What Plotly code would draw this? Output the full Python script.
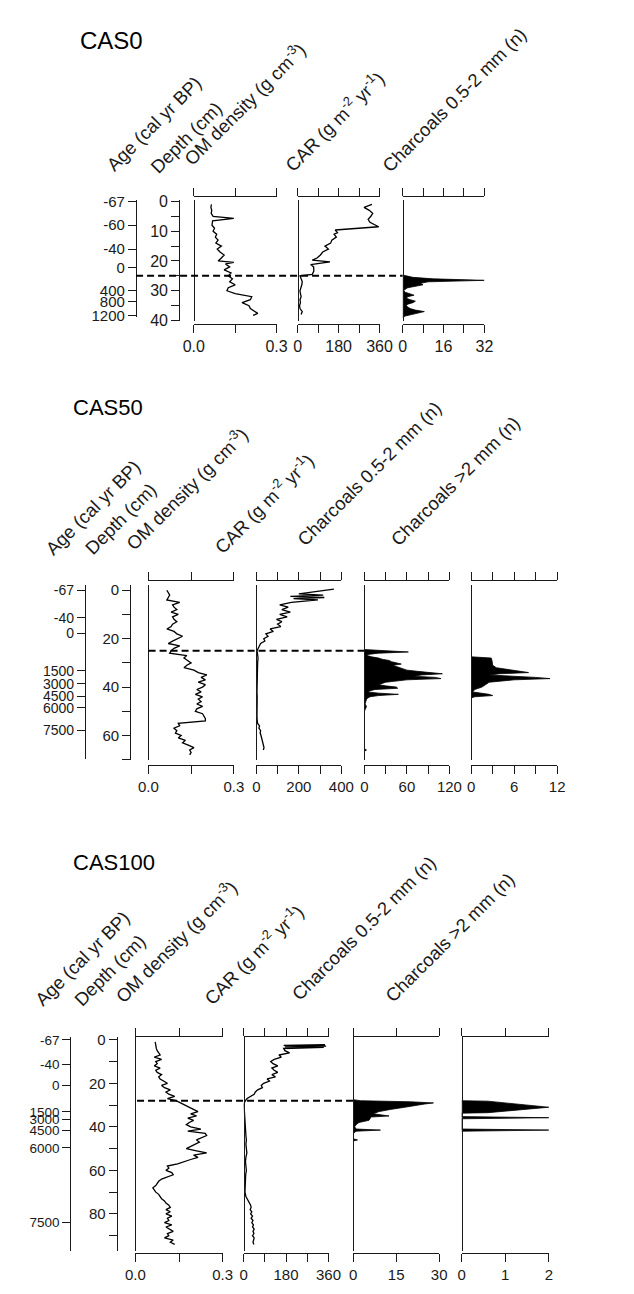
import plotly.graph_objects as go

W, H = 634, 1294
FONT = "Liberation Sans, Arial, sans-serif"
INK = "#1a1a1a"

# ======================= DATA =======================
# ---- CAS0 ----
cas0_age_depth = [0, 8, 16, 22.3, 30, 33.7, 38.3]
cas0_age_labels = ["-67", "-60", "-40", "0", "400", "800", "1200"]
cas0_boundary = 25

cas0_om_depth = [1, 2, 3, 4, 5, 5.7, 6.5, 8, 9, 10, 11, 12, 13, 14, 15, 16, 17, 18, 19, 20, 20.5,
                 21, 22, 23, 24, 25, 26, 27, 28, 29, 30, 31, 32, 33, 34, 35, 36, 37, 37.6, 38.3]
cas0_om = [0.064, 0.062, 0.065, 0.063, 0.07, 0.145, 0.068, 0.066, 0.075, 0.07, 0.083, 0.078, 0.088,
           0.08, 0.1, 0.085, 0.095, 0.11, 0.1, 0.088, 0.145, 0.115, 0.13, 0.11, 0.135, 0.125, 0.14,
           0.13, 0.15, 0.125, 0.12, 0.15, 0.21, 0.205, 0.175, 0.2, 0.205, 0.22, 0.232, 0.215]

cas0_car_depth = [1, 2, 3, 4, 5, 6, 7, 8.5, 9.6, 10.5, 11, 12, 13, 14, 15, 16, 17, 18, 19, 19.7, 20.3,
                  21.2, 22, 23.4, 24.5, 25, 26, 27, 28, 29, 30, 31, 32, 33, 34, 35, 36, 37, 38]
cas0_car = [327, 292, 315, 330, 322, 310, 318, 356, 165, 175, 160, 170, 150, 145, 120, 135, 110, 100,
            85, 64, 142, 57, 70, 71, 64, 10, 15, 20, 18, 15, 10, 12, 15, 10, 12, 8, 10, 20, 15]

cas0_ch_depth = [24.7, 25, 25.5, 26, 26.5, 27, 27.5, 28, 28.5, 29, 29.5, 30, 30.5, 31, 31.5, 32, 32.5,
                 33, 33.5, 34, 34.5, 35, 35.5, 36, 36.5, 37, 37.5, 38, 38.5, 39]
cas0_ch = [0, 2, 4, 12, 32, 10, 7, 8, 5, 2, 1, 0.5, 1, 3, 4.5, 2, 1.5, 3, 5, 4, 2, 1.5, 2, 3, 5,
           8.5, 6, 3, 1, 0]

# ---- CAS50 ----
cas50_age_depth = [0, 11.3, 17.7, 33.3, 38.7, 43.8, 48.6, 57.8]
cas50_age_labels = ["-67", "-40", "0", "1500", "3000", "4500", "6000", "7500"]
cas50_boundary = 25

cas50_om_depth = list(range(0, 69))
cas50_om = [0.065, 0.07, 0.075, 0.07, 0.065, 0.11, 0.085, 0.09, 0.1, 0.08, 0.105, 0.085, 0.09, 0.1,
            0.085, 0.08, 0.065, 0.09, 0.1, 0.12, 0.1, 0.085, 0.07, 0.11, 0.09, 0.08, 0.075, 0.135,
            0.125, 0.14, 0.15, 0.135, 0.125, 0.16, 0.175, 0.205, 0.185, 0.2, 0.175, 0.2, 0.19, 0.17,
            0.185, 0.165, 0.19, 0.175, 0.185, 0.17, 0.19, 0.17, 0.165, 0.19, 0.195, 0.2, 0.2, 0.105,
            0.11, 0.09, 0.1, 0.095, 0.115, 0.105, 0.13, 0.12, 0.14, 0.16, 0.145, 0.15, 0.145]

cas50_car_depth = [-0.5, 1.5, 2, 2.5, 3, 3.5, 4, 4.5, 5, 6, 7, 8, 9, 10, 11, 12, 13, 14, 15, 16, 17, 18,
                   19, 20, 21, 22, 23, 24, 25, 26, 28, 30, 32, 34, 36, 38, 40, 42, 44, 46, 48, 50, 52,
                   54, 55, 56, 57, 58, 59, 60, 61, 62, 63, 64, 65, 66]
cas50_car = [365, 200, 315, 160, 320, 175, 290, 220, 165, 110, 150, 120, 160, 110, 145, 95, 120, 100,
             115, 65, 80, 45, 55, 35, 40, 20, 15, 8, 3, 5, 8, 6, 5, 4, 6, 5, 4, 3, 4, 3, 5, 4, 3, 4, 6,
             15, 12, 20, 18, 22, 25, 28, 30, 32, 36, 33]

cas50_ch1_depth = [24.5, 25, 25.5, 26, 26.5, 27, 27.5, 28, 28.5, 29, 29.5, 30, 30.5, 31, 31.5, 32, 32.5,
                   33, 33.5, 34, 34.5, 35, 35.5, 36, 36.5, 37, 37.5, 38, 38.5, 39, 39.5, 40, 40.5, 41,
                   41.5, 42, 42.5, 43, 43.5, 44, 44.5, 45, 46, 47, 48, 49, 50, 65.5, 66, 66.5]
cas50_ch1 = [0, 30, 62, 20, 5, 4, 10, 20, 25, 35, 38, 45, 52, 40, 45, 50, 55, 60, 75, 95, 110, 80, 70,
             100, 108, 60, 40, 30, 25, 20, 30, 45, 47, 15, 8, 5, 20, 48, 20, 8, 5, 3, 2, 1, 3, 2, 0,
             0, 3, 0]

cas50_ch2_depth = [27.5, 28, 29, 30, 31, 32, 33, 34, 34.5, 35, 36, 36.5, 37, 37.5, 38, 39, 40, 41, 42,
                   43, 43.5, 44, 44.5]
cas50_ch2 = [0, 2.8, 2.9, 3, 3, 3.5, 5.5, 8, 4, 2.5, 9, 11, 6, 3.5, 2.5, 2, 1.5, 0.5, 0.2, 2.5, 3,
             0.5, 0]

# ---- CAS100 ----
cas100_age_depth = [0, 11.3, 21.0, 33.1, 36.6, 41.7, 49.7, 84.0]
cas100_age_labels = ["-67", "-40", "0", "1500", "3000", "4500", "6000", "7500"]
cas100_boundary = 28

cas100_om_depth = list(range(1, 95))
cas100_om = [0.068, 0.069, 0.07, 0.072, 0.075, 0.08, 0.085, 0.065, 0.09, 0.07, 0.075, 0.065, 0.085,
             0.07, 0.075, 0.09, 0.08, 0.085, 0.1, 0.11, 0.09, 0.1, 0.12, 0.105, 0.115, 0.135, 0.11,
             0.14, 0.155, 0.17, 0.185, 0.2, 0.215, 0.19, 0.21, 0.18, 0.2, 0.185, 0.175, 0.19, 0.225,
             0.18, 0.24, 0.245, 0.225, 0.21, 0.22, 0.205, 0.185, 0.175, 0.21, 0.245, 0.2, 0.215, 0.19,
             0.165, 0.145, 0.11, 0.115, 0.105, 0.125, 0.13, 0.11, 0.09, 0.08, 0.075, 0.07, 0.06, 0.065,
             0.07, 0.08, 0.085, 0.09, 0.1, 0.105, 0.115, 0.12, 0.105, 0.12, 0.105, 0.125, 0.11, 0.115,
             0.1, 0.125, 0.105, 0.12, 0.13, 0.11, 0.115, 0.1, 0.13, 0.12, 0.135]

cas100_car_depth = [2.3, 2.6, 2.9, 3.2, 3.5, 4, 5, 6, 7, 8, 9, 10, 11, 12, 13, 14, 15, 16, 17, 18, 19,
                    20, 21, 22, 23, 24, 25, 26, 27, 28, 29, 30, 32, 34, 36, 38, 40, 42, 44, 46, 48, 50,
                    52, 54, 56, 58, 60, 62, 64, 66, 68, 70, 72, 73, 74, 75, 76, 77, 78, 79, 80, 81, 82,
                    83, 84, 85, 86, 87, 88, 89, 90, 91, 92, 93, 94]
cas100_car = [345, 170, 350, 175, 340, 170, 175, 195, 150, 160, 130, 115, 125, 145, 120, 130, 145, 120,
              135, 100, 110, 85, 75, 80, 60, 50, 45, 30, 15, 8, 3, 2, 3, 2, 3, 4, 5, 8, 10, 12, 10, 12,
              14, 10, 8, 10, 12, 9, 8, 10, 8, 6, 10, 15, 22, 25, 30, 32, 28, 35, 30, 38, 32, 40, 35, 42,
              38, 45, 40, 44, 38, 45, 42, 40, 44]

cas100_ch1_depth = [27.5, 28, 28.5, 29, 29.5, 30, 31, 32, 33, 34, 35, 35.5, 36, 37, 38, 39, 40, 41, 41.5,
                    42, 43, 45.5, 46, 46.5]
cas100_ch1 = [0, 2.5, 20, 28, 25, 22, 18, 13, 9, 7, 12.5, 6, 6, 5.5, 2, 1, 0.5, 1, 9.5, 1, 0, 0, 1.5, 0]

cas100_ch2_depth = [28, 28.2, 31, 33.5, 33.7, 35.3, 35.8, 36.3, 41.0, 41.5, 42.0]
cas100_ch2 = [0, 0.6, 2, 0.6, 0, 0, 2, 0, 0, 2, 0]

# ======================= GEOMETRY / STYLE =======================
CORES = [
    dict(name="CAS0", title=(70, 33, 24), tick_size=16, age_size=15,
         y0=196.0, k=3.017, top=195.0, bottom=316.7, xtop=190.7, xbot=320.0,
         depth_x=175, depth_rng=(195.0, 316.7), depth_ticks=[0, 5, 10, 15, 20, 25, 30, 35, 40],
         depth_step=10,
         age_x=130, age_rng=(195.0, 313.0),
         age_depth=cas0_age_depth, age_labels=cas0_age_labels,
         boundary=cas0_boundary, dash=(130, 407),
         labels=[("Age (cal yr BP)", 149, 117.5), ("Depth (cm)", 182.5, 131.7),
                 ("OM density (g cm<sup>-3</sup>)", 243, 96.7),
                 ("CAR (g m<sup>-2</sup> yr<sup>-1</sup>)", 335.8, 115),
                 ("Charcoals 0.5-2 mm (n)", 460, 93.3)],
         panels=[
             dict(lr=(190, 276), xmax=0.3, ticks=[0, 0.15, 0.3], text=["0.0", "", "0.3"],
                  x=cas0_om, y=cas0_om_depth, fill=False),
             dict(lr=(298, 383), xmax=360, ticks=[0, 90, 180, 270, 360], text=["0", "", "180", "", "360"],
                  x=cas0_car, y=cas0_car_depth, fill=False),
             dict(lr=(407, 492), xmax=32, ticks=[0, 8, 16, 24, 32], text=["0", "", "16", "", "32"],
                  x=cas0_ch, y=cas0_ch_depth, fill=True),
         ]),
    dict(name="CAS50", title=(62, 405, 22), tick_size=15, age_size=14,
         y0=590.0, k=2.453, top=585.0, bottom=761.7, xtop=580.0, xbot=766.7,
         depth_x=124, depth_rng=(585.0, 761.7), depth_ticks=[0, 10, 20, 30, 40, 50, 60, 70],
         depth_step=20,
         age_x=77, age_rng=(585.0, 761.0),
         age_depth=cas50_age_depth, age_labels=cas50_age_labels,
         boundary=cas50_boundary, dash=(143, 367),
         labels=[("Age (cal yr BP)", 85.5, 506.5), ("Depth (cm)", 114.5, 517.5),
                 ("OM density (g cm<sup>-3</sup>)", 182.5, 486.5),
                 ("CAR (g m<sup>-2</sup> yr<sup>-1</sup>)", 262.5, 501.5),
                 ("Charcoals 0.5-2 mm (n)", 372.5, 471.5),
                 ("Charcoals >2 mm (n)", 461.5, 480)],
         panels=[
             dict(lr=(142.7, 231.7), xmax=0.3, ticks=[0, 0.15, 0.3], text=["0.0", "", "0.3"],
                  x=cas50_om, y=cas50_om_depth, fill=False),
             dict(lr=(255, 343.3), xmax=400, ticks=[0, 100, 200, 300, 400], text=["0", "", "200", "", "400"],
                  x=cas50_car, y=cas50_car_depth, fill=False),
             dict(lr=(367.3, 455.7), xmax=120, ticks=[0, 30, 60, 90, 120], text=["0", "", "60", "", "120"],
                  x=cas50_ch1, y=cas50_ch1_depth, fill=True),
             dict(lr=(478.3, 567.7), xmax=12, ticks=[0, 3, 6, 9, 12], text=["0", "", "6", "", "12"],
                  x=cas50_ch2, y=cas50_ch2_depth, fill=True),
         ]),
    dict(name="CAS100", title=(62, 866, 22), tick_size=15, age_size=13.5,
         y0=1045.5, k=2.206, top=1043.0, bottom=1260.0, xtop=1041.7, xbot=1261.7,
         depth_x=110, depth_rng=(1043.0, 1260.0), depth_ticks=[0, 10, 20, 30, 40, 50, 60, 70, 80, 90],
         depth_step=20,
         age_x=61.7, age_rng=(1043.0, 1260.0),
         age_depth=cas100_age_depth, age_labels=cas100_age_labels,
         boundary=cas100_boundary, dash=(131, 355.7),
         labels=[("Age (cal yr BP)", 74, 963), ("Depth (cm)", 102.5, 975),
                 ("OM density (g cm<sup>-3</sup>)", 171, 945),
                 ("CAR (g m<sup>-2</sup> yr<sup>-1</sup>)", 252, 959),
                 ("Charcoals 0.5-2 mm (n)", 366.5, 933),
                 ("Charcoals >2 mm (n)", 456, 941.5)],
         panels=[
             dict(lr=(129.3, 220), xmax=0.3, ticks=[0, 0.15, 0.3], text=["0.0", "", "0.3"],
                  x=cas100_om, y=cas100_om_depth, fill=False),
             dict(lr=(241.7, 330), xmax=360, ticks=[0, 90, 180, 270, 360], text=["0", "", "180", "", "360"],
                  x=cas100_car, y=cas100_car_depth, fill=False),
             dict(lr=(355.7, 445), xmax=30, ticks=[0, 15, 30], text=["0", "15", "30"],
                  x=cas100_ch1, y=cas100_ch1_depth, fill=True),
             dict(lr=(468.3, 559), xmax=2, ticks=[0, 1, 2], text=["0", "1", "2"],
                  x=cas100_ch2, y=cas100_ch2_depth, fill=True),
         ]),
]

LABEL_FONT = dict(family=FONT, size=18.5, color=INK)

fig = go.Figure()
lay = dict(width=W, height=H, margin=dict(l=0, r=0, t=0, b=0), autosize=False,
           paper_bgcolor="white", plot_bgcolor="rgba(0,0,0,0)", showlegend=False,
           annotations=[], shapes=[])
cnt = {"x": 0, "y": 0}


def new_axis(letter, spec):
    cnt[letter] += 1
    n = cnt[letter]
    lay[f"{letter}axis" + ("" if n == 1 else str(n))] = spec
    return letter if n == 1 else f"{letter}{n}"


def ghost(xr, yr):
    fig.add_trace(go.Scatter(x=[0], y=[0], xaxis=xr, yaxis=yr, mode="markers",
                             marker=dict(size=1, opacity=0), showlegend=False, hoverinfo="skip"))


for core in CORES:
    tick_font = dict(family=FONT, size=core["tick_size"], color=INK)
    age_font = dict(family=FONT, size=core["age_size"], color=INK)

    def base_axis(**kw):
        d = dict(showgrid=False, zeroline=False, showline=True, linecolor=INK, linewidth=1.4,
                 tickcolor=INK, tickwidth=1.4, ticklen=8, tickfont=tick_font, fixedrange=True,
                 anchor="free")
        d.update(kw)
        return d

    def d_of(ypix, c=core):
        return (ypix - c["y0"]) / c["k"]

    first_x = None
    first_y = None
    for p in core["panels"]:
        L, R = p["lr"]
        dom = [L / W, R / W]
        xb = new_axis("x", base_axis(domain=dom, range=[0, p["xmax"]], position=1 - core["xbot"] / H,
                                     side="bottom", ticks="outside", tickmode="array",
                                     tickvals=p["ticks"], ticktext=p["text"]))
        xt = new_axis("x", base_axis(domain=dom, range=[0, p["xmax"]], position=1 - core["xtop"] / H,
                                     side="top", ticks="outside", tickmode="array",
                                     tickvals=p["ticks"], showticklabels=False))
        yp = new_axis("y", base_axis(domain=[1 - core["bottom"] / H, 1 - core["top"] / H],
                                     range=[d_of(core["bottom"]), d_of(core["top"])],
                                     position=L / W, side="left", ticks="", showticklabels=False))
        if first_x is None:
            first_x, first_y = xb, yp
        ghost(xt, yp)
        if p["fill"]:
            fig.add_trace(go.Scatter(x=p["x"], y=p["y"], xaxis=xb, yaxis=yp, mode="lines",
                                     line=dict(color="black", width=0.8), fill="tozerox",
                                     fillcolor="black", showlegend=False, hoverinfo="skip"))
        else:
            fig.add_trace(go.Scatter(x=p["x"], y=p["y"], xaxis=xb, yaxis=yp, mode="lines",
                                     line=dict(color="black", width=1.3), showlegend=False,
                                     hoverinfo="skip"))

    # depth axis
    t0, t1 = core["depth_rng"]
    dt = core["depth_ticks"]
    yd = new_axis("y", base_axis(domain=[1 - t1 / H, 1 - t0 / H], range=[d_of(t1), d_of(t0)],
                                 position=core["depth_x"] / W, side="left", ticks="outside",
                                 tickmode="array", tickvals=dt,
                                 ticktext=[str(v) if v % core["depth_step"] == 0 else "" for v in dt]))
    ghost(first_x, yd)
    # age axis
    a0, a1 = core["age_rng"]
    ya = new_axis("y", base_axis(domain=[1 - a1 / H, 1 - a0 / H], range=[d_of(a1), d_of(a0)],
                                 position=core["age_x"] / W, side="left", ticks="outside",
                                 tickmode="array", tickvals=core["age_depth"],
                                 ticktext=core["age_labels"], tickfont=age_font))
    ghost(first_x, ya)

    # boundary dashed line
    lay["shapes"].append(dict(type="line", xref="paper", yref=first_y, x0=core["dash"][0] / W,
                              x1=core["dash"][1] / W, y0=core["boundary"], y1=core["boundary"],
                              line=dict(color="black", width=2, dash="7px,4px")))
    # core title
    tx, ty, ts = core["title"]
    lay["annotations"].append(dict(text=core["name"], x=tx / W, y=1 - ty / H, xref="paper", yref="paper",
                                   xanchor="left", yanchor="middle", showarrow=False,
                                   font=dict(family=FONT, size=ts, color="black")))
    for text, cx, cy in core["labels"]:
        lay["annotations"].append(dict(text=text, x=cx / W, y=1 - cy / H, xref="paper", yref="paper",
                                       xanchor="center", yanchor="middle", showarrow=False,
                                       textangle=-45, font=LABEL_FONT))

fig.update_layout(**lay)
fig.write_html("out.html")
